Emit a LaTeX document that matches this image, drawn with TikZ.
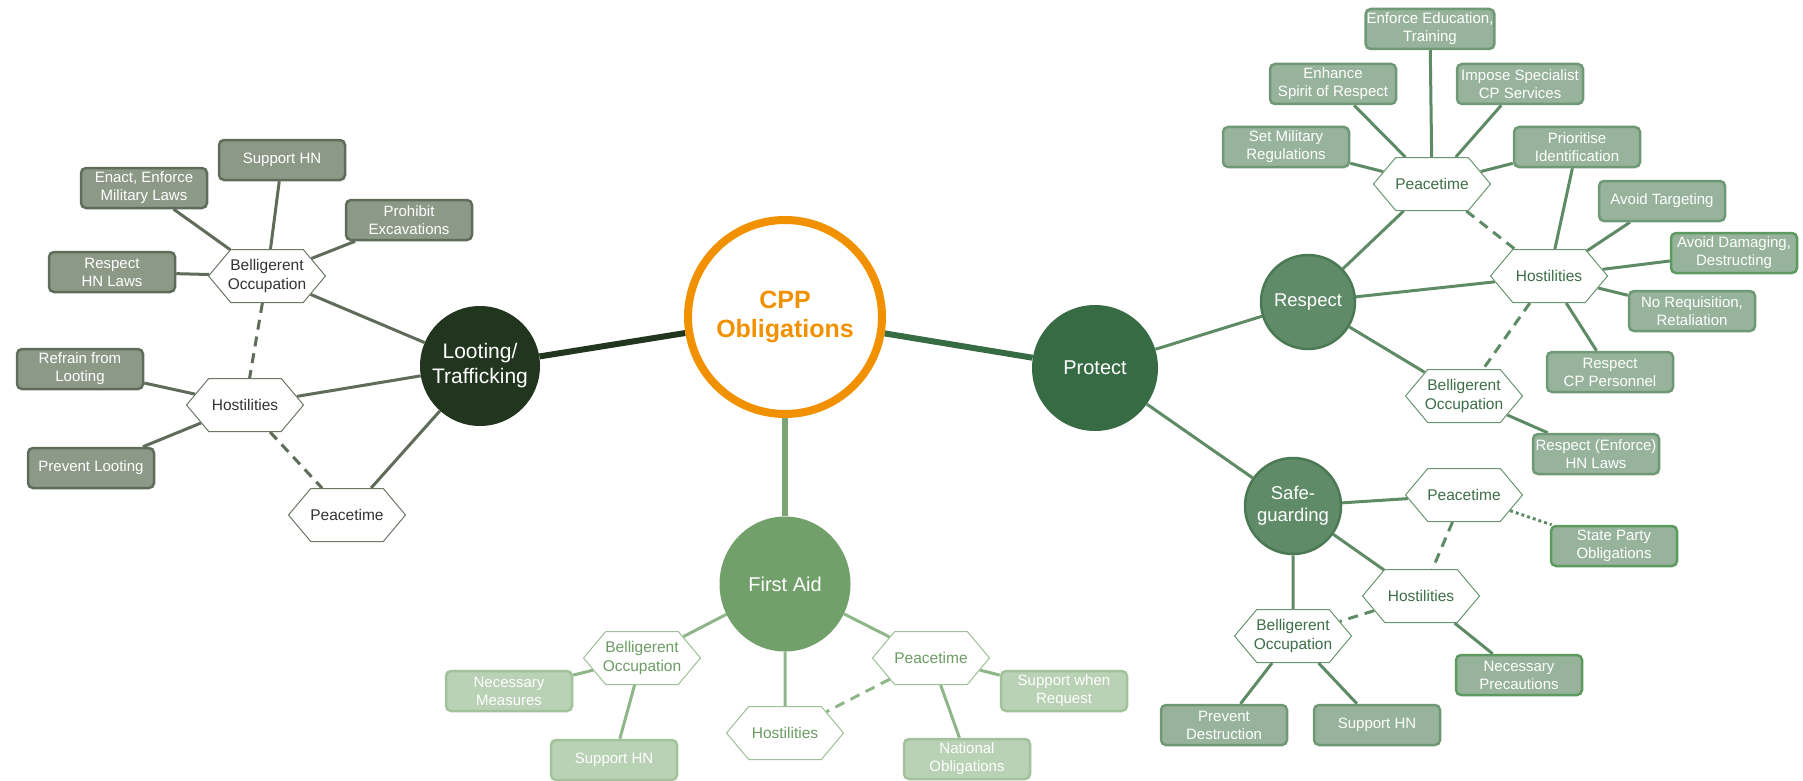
\documentclass[tikz,border=0pt]{standalone}
\usepackage{fontspec}
\setmainfont{Liberation Sans}
\usetikzlibrary{shapes.symbols,shapes.geometric,backgrounds}
\definecolor{cppor}{HTML}{F29100}
\definecolor{lootdark}{HTML}{22361F}
\definecolor{lootline}{HTML}{5F6C59}
\definecolor{lootfill}{HTML}{8D9987}
\definecolor{lootbord}{HTML}{5F6C5A}
\definecolor{lothex}{HTML}{6B7866}
\definecolor{prodark}{HTML}{376B43}
\definecolor{proline}{HTML}{5E8B66}
\definecolor{procirc}{HTML}{5F8B68}
\definecolor{procircb}{HTML}{4B7953}
\definecolor{profill}{HTML}{97B39B}
\definecolor{probord}{HTML}{6F9975}
\definecolor{probright}{HTML}{5C9A5F}
\definecolor{prohex}{HTML}{6A9570}
\definecolor{protext}{HTML}{3E6E47}
\definecolor{facirc}{HTML}{72A06A}
\definecolor{faline}{HTML}{8EB688}
\definecolor{famain}{HTML}{7BA673}
\definecolor{fafill}{HTML}{B9D1B4}
\definecolor{fabord}{HTML}{A2C29C}
\definecolor{fahex}{HTML}{9DC096}
\definecolor{fatext}{HTML}{6C9C64}
\newcommand{\boxfont}{\fontsize{15}{18}\selectfont}
\newcommand{\hexfont}{\fontsize{15.5}{18.5}\selectfont}
\tikzset{
  box/.style={rounded corners=5pt, draw, line width=2.5pt, minimum width=126pt, minimum height=40pt, align=center, text=white, font=\boxfont, inner sep=1pt},
  hexa/.style={signal, signal to=east and west, signal pointer angle=100, draw, fill=white, line width=1pt, minimum width=117pt, minimum height=53pt, align=center, inner ysep=1pt, inner xsep=-3.5pt, font=\hexfont},
  lbox/.style={box, fill=lootfill, draw=lootbord},
  pbox/.style={box, fill=profill, draw=probord},
  pboxb/.style={box, fill=profill, draw=probright},
  fbox/.style={box, fill=fafill, draw=fabord},
  lhex/.style={hexa, draw=lothex, text=black!80},
  phex/.style={hexa, draw=prohex, text=protext},
  fhex/.style={hexa, draw=fahex, text=fatext},
  lline/.style={draw=lootline, line width=3pt},
  pline/.style={draw=proline, line width=3pt},
  fline/.style={draw=faline, line width=3pt},
  ldash/.style={lline, dash pattern=on 10pt off 7pt},
  pdash/.style={pline, dash pattern=on 10pt off 7pt},
  fdash/.style={fline, dash pattern=on 10pt off 7pt},
  pdot/.style={pline, dash pattern=on 3pt off 3pt},
}
\begin{document}
\begin{tikzpicture}[x=1pt,y=-1pt]
\useasboundingbox (0,0) rectangle (1803,781);
% main nodes
\node[circle, draw=cppor, line width=8pt, fill=white, minimum size=194pt, text=cppor, align=center, font=\fontsize{25}{29}\selectfont\bfseries] (cpp) at (785,317) {CPP\\Obligations};
\node[circle, fill=lootdark, minimum size=120pt, text=white, align=center, font=\fontsize{21}{25}\selectfont] (loot) at (480,366) {Looting/\\Trafficking};
\node[circle, fill=prodark, minimum size=126pt, text=white, font=\fontsize{20}{24}\selectfont] (prot) at (1095,368) {Protect};
\node[ellipse, fill=facirc, minimum width=131pt, minimum height=135pt, text=white, font=\fontsize{20}{24}\selectfont] (fa) at (785,584) {First Aid};
\node[circle, fill=procirc, draw=procircb, line width=2.5pt, minimum size=94pt, text=white, font=\fontsize{18.5}{22}\selectfont] (resp) at (1308,302) {Respect};
\node[circle, fill=procirc, draw=procircb, line width=2.5pt, minimum size=96pt, text=white, align=center, font=\fontsize{18.5}{22}\selectfont] (safe) at (1293,506) {Safe-\\guarding};

% Looting branch
\node[lhex] (lbel) at (267,276) {Belligerent\\Occupation};
\node[lhex] (lhos) at (245,405) {Hostilities};
\node[lhex] (lpea) at (347,515) {Peacetime};
\node[lbox] (lsup) at (282,160) {Support HN};
\node[lbox] (lena) at (144,188) {Enact, Enforce\\Military Laws};
\node[lbox] (lpro) at (409,220) {Prohibit\\Excavations};
\node[lbox] (lres) at (112,272) {Respect\\HN Laws};
\node[lbox] (lref) at (80,369) {Refrain from\\Looting};
\node[lbox] (lprev) at (91,468) {Prevent Looting};

% Respect branch
\node[phex] (rpea) at (1432,184) {Peacetime};
\node[phex] (rhos) at (1549,276) {Hostilities};
\node[phex] (rbel) at (1464,396) {Belligerent\\Occupation};
\node[pbox] (redu) at (1430,29) {Enforce Education,\\Training};
\node[pbox] (renh) at (1333,84) {Enhance\\Spirit of Respect};
\node[pbox] (rimp) at (1520,84) {Impose Specialist\\CP Services};
\node[pbox] (rset) at (1286,147) {Set Military\\Regulations};
\node[pbox] (rpri) at (1577,147) {Prioritise\\Identification};
\node[pbox] (ratg) at (1662,201) {Avoid Targeting};
\node[pboxb] (radm) at (1734,253) {Avoid Damaging,\\Destructing};
\node[pbox] (rreq) at (1692,311) {No Requisition,\\Retaliation};
\node[pbox] (rcp) at (1610,372) {Respect\\CP Personnel};
\node[pbox] (renf) at (1596,454) {Respect (Enforce)\\HN Laws};

% Safeguarding branch
\node[phex] (spea) at (1464,495) {Peacetime};
\node[phex] (shos) at (1421,596) {Hostilities};
\node[phex] (sbel) at (1293,636) {Belligerent\\Occupation};
\node[pboxb] (sstp) at (1614,546) {State Party\\Obligations};
\node[pboxb] (snec) at (1519,675) {Necessary\\Precautions};
\node[pbox] (sprev) at (1224,725) {Prevent\\Destruction};
\node[pbox] (ssup) at (1377,725) {Support HN};

% First aid branch
\node[fhex] (fbel) at (642,658) {Belligerent\\Occupation};
\node[fhex] (fhos) at (785,733) {Hostilities};
\node[fhex] (fpea) at (931,658) {Peacetime};
\node[fbox] (fnec) at (509,691) {Necessary\\Measures};
\node[fbox] (fsup) at (614,760) {Support HN};
\node[fbox] (fnat) at (967,759) {National\\Obligations};
\node[fbox] (freq) at (1064,691) {Support when\\Request};

% connectors behind nodes
\begin{scope}[on background layer]
\draw[draw=lootdark, line width=6pt] (cpp) -- (loot);
\draw[draw=prodark, line width=6pt] (cpp) -- (prot);
\draw[draw=famain, line width=6pt] (cpp) -- (fa);
% looting
\draw[lline] (loot) -- (lbel);
\draw[lline] (loot) -- (lhos);
\draw[lline] (loot) -- (lpea);
\draw[lline] (lbel) -- (lsup);
\draw[lline] (lbel) -- (lena);
\draw[lline] (lbel) -- (lpro);
\draw[lline] (lbel) -- (lres);
\draw[lline] (lhos) -- (lref);
\draw[lline] (lhos) -- (lprev);
\draw[ldash] (lbel) -- (lhos);
\draw[ldash] (lhos) -- (lpea);
% protect
\draw[pline] (prot) -- (resp);
\draw[pline] (prot) -- (safe);
\draw[pline] (resp) -- (rpea);
\draw[pline] (resp) -- (rhos);
\draw[pline] (resp) -- (rbel);
\draw[pline] (rpea) -- (redu);
\draw[pline] (rpea) -- (renh);
\draw[pline] (rpea) -- (rimp);
\draw[pline] (rpea) -- (rset);
\draw[pline] (rpea) -- (rpri);
\draw[pline] (rhos) -- (rpri);
\draw[pline] (rhos) -- (ratg);
\draw[pline] (rhos) -- (radm);
\draw[pline] (rhos) -- (rreq);
\draw[pline] (rhos) -- (rcp);
\draw[pline] (rbel) -- (renf);
\draw[pdash] (rpea) -- (rhos);
\draw[pdash] (rhos) -- (rbel);
\draw[pline] (safe) -- (spea);
\draw[pline] (safe) -- (shos);
\draw[pline] (safe) -- (sbel);
\draw[pline] (shos) -- (snec);
\draw[pline] (sbel) -- (sprev);
\draw[pline] (sbel) -- (ssup);
\draw[pdash] (spea) -- (shos);
\draw[pdash] (shos) -- (sbel);
\draw[pdot] (spea) -- (sstp);
% first aid
\draw[fline] (fa) -- (fbel);
\draw[fline] (fa) -- (fhos);
\draw[fline] (fa) -- (fpea);
\draw[fline] (fbel) -- (fnec);
\draw[fline] (fbel) -- (fsup);
\draw[fline] (fpea) -- (fnat);
\draw[fline] (fpea) -- (freq);
\draw[fdash] (fpea) -- (fhos);
\end{scope}
\end{tikzpicture}
\end{document}
